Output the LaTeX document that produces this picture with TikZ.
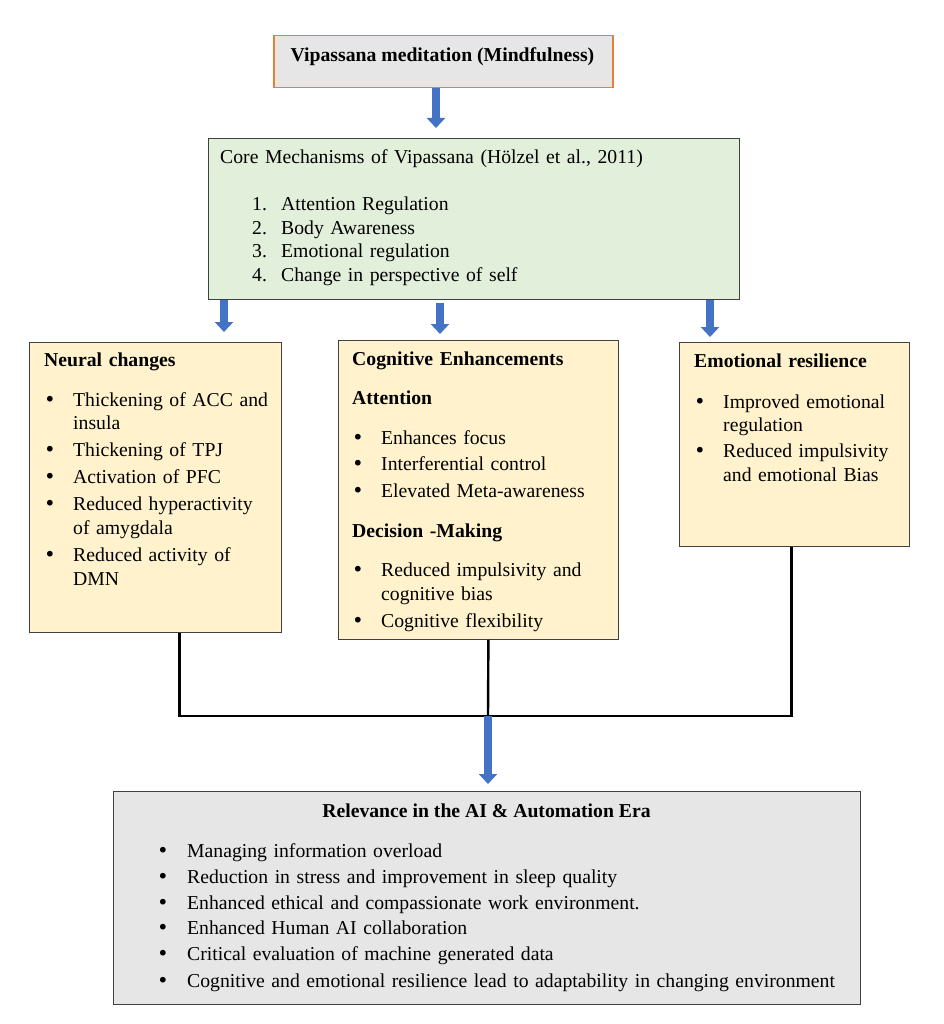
\documentclass[tikz,border=0pt]{standalone}
\usepackage{fontspec}
\setmainfont{Liberation Serif}
\newfontfamily\bulletfont{DejaVu Sans}
\usetikzlibrary{arrows.meta}
\definecolor{orangeline}{HTML}{ED7D31}
\definecolor{boxgray}{HTML}{E7E6E6}
\definecolor{mechgreen}{HTML}{E2EFDA}
\definecolor{paleyellow}{HTML}{FFF2CC}
\definecolor{arrowblue}{HTML}{4472C4}
\definecolor{edgegray}{HTML}{404040}
\newcommand{\bitem}[1][29pt]{\hspace*{0pt}\makebox[#1][l]{{\bulletfont •}}}
\newcommand{\bcont}{\hspace*{29pt}}
\newcommand{\nitem}[1]{\hspace*{32pt}\makebox[29pt][l]{#1}}

\begin{document}
\begin{tikzpicture}[x=1pt,y=-1pt,
      font=\fontsize{19.7pt}{23.5pt}\selectfont,
      box/.style={draw=edgegray,line width=0.8pt,anchor=north west,inner sep=0pt},
      txt/.style={anchor=base west,align=left,text width=#1,inner sep=0pt},
      barrow/.style={-{Triangle[width=18pt,length=10pt]},line width=7.5pt,draw=arrowblue},
      link/.style={line width=2.4pt,draw=black}
    ]
      \useasboundingbox (0,0) rectangle (943,1024);

      % boxes
      \node[box,fill=boxgray,draw=orangeline,line width=1.5pt,minimum width=339pt,minimum height=52pt] (vip) at (273,35) {};
      \node[box,fill=mechgreen,minimum width=531pt,minimum height=161pt] (mech) at (208,138) {};
      \node[box,fill=paleyellow,minimum width=252pt,minimum height=290pt] (neural) at (29,342) {};
      \node[box,fill=paleyellow,minimum width=280pt,minimum height=299pt] (cog) at (338,340) {};
      \node[box,fill=paleyellow,minimum width=230pt,minimum height=204pt] (emo) at (679,342) {};
      \node[box,fill=boxgray,minimum width=747pt,minimum height=213pt] (rel) at (113,791) {};

      % texts
      \node[anchor=base,inner sep=0pt] (viptxt) at (442.5,62) {\textbf{Vipassana meditation (Mindfulness)}};
      \node[txt=510pt] (mechtxt) at (220,164) {Core Mechanisms of Vipassana (Hölzel et al., 2011)\\[23.5pt]
        \nitem{1.}Attention Regulation\\
        \nitem{2.}Body Awareness\\
        \nitem{3.}Emotional regulation\\
        \nitem{4.}Change in perspective of self};
      \node[txt=240pt] (neuraltxt) at (44,366) {\textbf{Neural changes}\\[16.5pt]
        \bitem Thickening of ACC and\\
        \bcont insula\\[3.5pt]
        \bitem Thickening of TPJ\\[3.5pt]
        \bitem Activation of PFC\\[3.5pt]
        \bitem Reduced hyperactivity\\
        \bcont of amygdala\\[4pt]
        \bitem Reduced activity of\\
        \bcont DMN};
      \node[txt=270pt] (cogtxt) at (352,365) {\textbf{Cognitive Enhancements}\\[15.5pt]
        \textbf{Attention}\\[16.5pt]
        \bitem Enhances focus\\[3pt]
        \bitem Interferential control\\[3.5pt]
        \bitem Elevated Meta-awareness\\[16.5pt]
        \textbf{Decision -Making}\\[15.5pt]
        \bitem Reduced impulsivity and\\
        \bcont cognitive bias\\[3.5pt]
        \bitem Cognitive flexibility};
      \node[txt=225pt] (emotxt) at (694,367) {\textbf{Emotional resilience}\\[17.5pt]
        \bitem Improved emotional\\
        \bcont regulation\\[2.5pt]
        \bitem Reduced impulsivity\\
        \bcont and emotional Bias};
      \node[anchor=base,inner sep=0pt] (reltitle) at (486.5,817) {\textbf{Relevance in the AI \& Automation Era}};
      \node[txt=730pt] (reltxt) at (157,857) {\bitem[30pt]Managing information overload\\[2.5pt]
        \bitem[30pt]Reduction in stress and improvement in sleep quality\\[2.5pt]
        \bitem[30pt]Enhanced ethical and compassionate work environment.\\[2pt]
        \bitem[30pt]Enhanced Human AI collaboration\\[2.5pt]
        \bitem[30pt]Critical evaluation of machine generated data\\[3pt]
        \bitem[30pt]Cognitive and emotional resilience lead to adaptability in changing environment};

      % connectors
      \coordinate (c1) at (436,0);
      \coordinate (c2) at (224,0);
      \coordinate (c3) at (440,0);
      \coordinate (c4) at (710,0);
      \coordinate (join) at (488,716);
      \draw[link] ([xshift=24pt]neural.south) |- (join);
      \draw[link] ([xshift=10pt]cog.south) -- (join);
      \draw[link] ([xshift=-3pt]emo.south) |- (join);

      \draw[barrow,shorten >=10pt] (vip.south -| c1) -- (mech.north -| c1);
      \draw[barrow,shorten >=10pt] (mech.south -| c2) -- (neural.north -| c2);
      \draw[barrow,shorten <=3pt,shorten >=6pt] (mech.south -| c3) -- (cog.north -| c3);
      \draw[barrow,shorten >=5pt] (mech.south -| c4) -- (emo.north -| c4);
      \draw[barrow,shorten >=7pt] (join) -- (rel.north -| join);
    \end{tikzpicture}
\end{document}
